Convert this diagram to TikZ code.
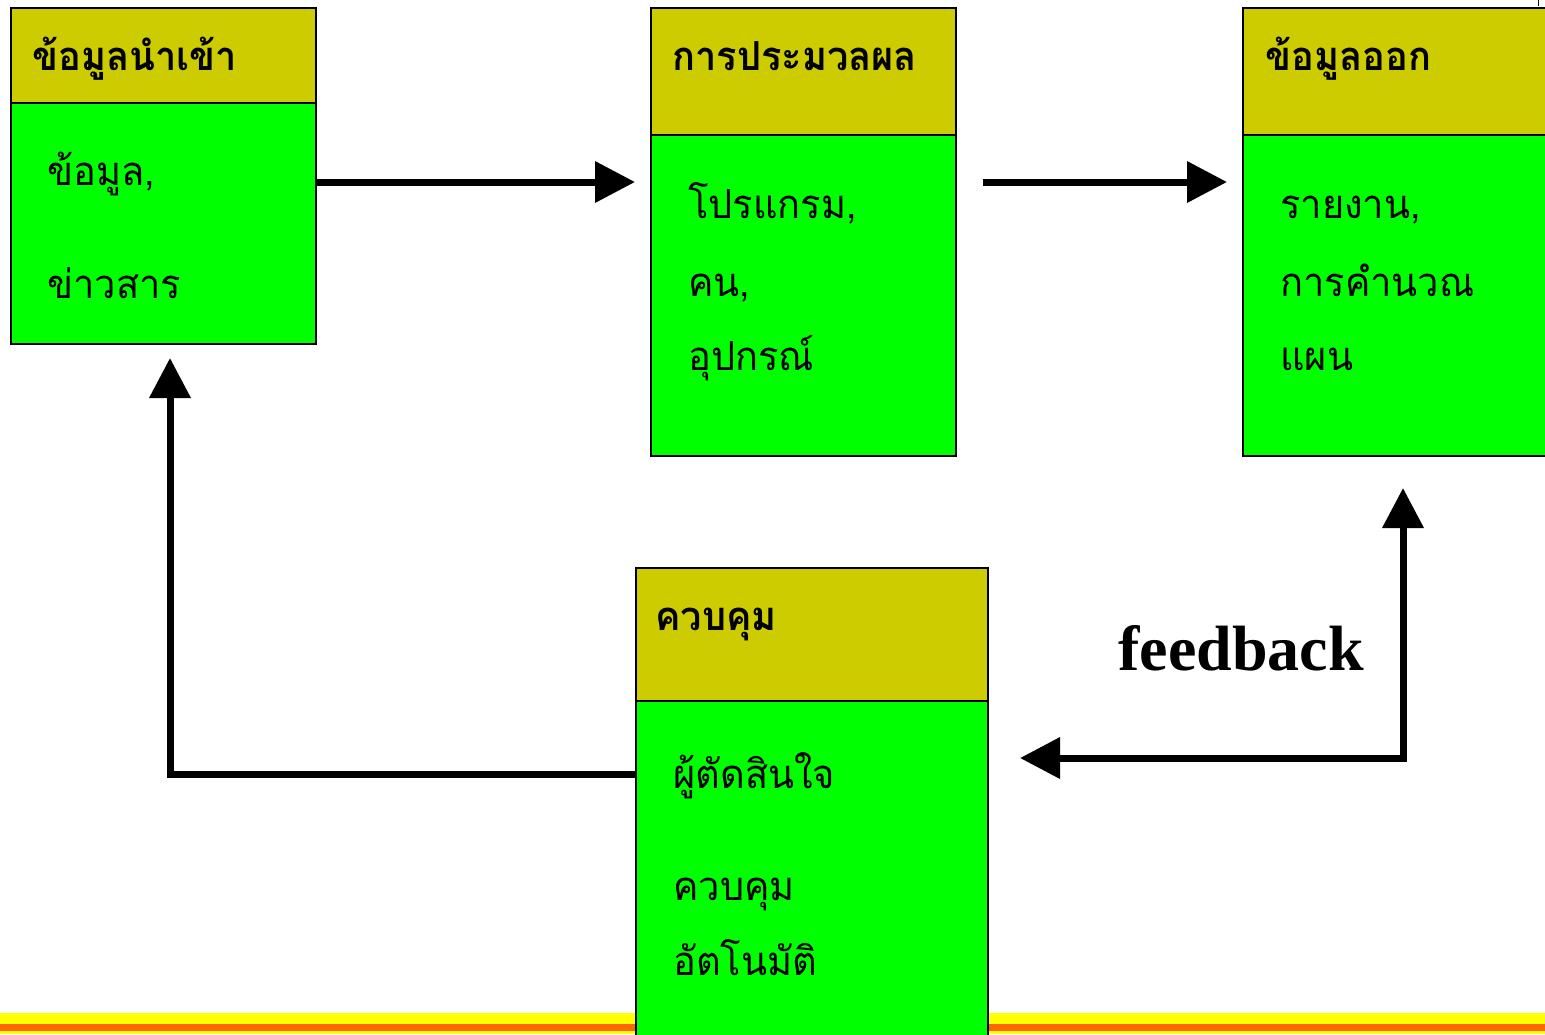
\documentclass[tikz,border=0pt]{standalone}
\usepackage{fontspec}
\usetikzlibrary{arrows.meta}
\newfontfamily\thai[Script=Thai,FakeStretch=0.95]{Loma}
\setmainfont{Liberation Serif}
\definecolor{hdr}{RGB}{204,204,0}
\definecolor{bodyg}{RGB}{0,255,0}
\definecolor{stripy}{RGB}{255,255,0}
\definecolor{stripo}{RGB}{255,102,0}
\tikzset{
  hdrbox/.style={draw=black,line width=1pt,fill=hdr,rectangle,inner sep=0pt,anchor=north west},
  bodybox/.style={draw=black,line width=1pt,fill=bodyg,rectangle,inner sep=0pt,anchor=north west},
  ttl/.style={anchor=base west,inner sep=0pt,font=\thai\bfseries\fontsize{20}{24}\selectfont},
  txt/.style={anchor=base west,inner sep=0pt,font=\thai\fontsize{20}{24}\selectfont},
  arr/.style={line width=3.5pt,-{Triangle[length=20pt,width=20pt]}},
}
\begin{document}
\begin{tikzpicture}[x=0.5pt,y=-0.5pt]
\useasboundingbox (0,0) rectangle (1545,1034);
\clip (0,0) rectangle (1545,1034);
% bottom strip
\fill[stripy] (0,1013) rectangle (1545,1034);
\fill[stripo] (0,1024) rectangle (1545,1031);
\draw[line width=0.5pt] (1538,0) -- (1538,6);
% box 1
\node[hdrbox,minimum width=152.5pt,minimum height=47.5pt] (h1) at (10,7) {};
\node[bodybox,minimum width=152.5pt,minimum height=120.5pt] (b1) at (10,102) {};
\node[ttl] (t1) at (32,70) {ข้อมูลนำเข้า};
\node[txt] (t1a) at (47,185) {ข้อมูล,};
\node[txt] (t1b) at (47,298) {ข่าวสาร};
% box 2
\node[hdrbox,minimum width=152.5pt,minimum height=63.5pt] (h2) at (650,7) {};
\node[bodybox,minimum width=152.5pt,minimum height=160.5pt] (b2) at (650,134) {};
\node[ttl] (t2) at (672,70) {การประมวลผล};
\node[txt] (t2a) at (688,218) {โปรแกรม,};
\node[txt] (t2b) at (688,296) {คน,};
\node[txt] (t2c) at (688,370) {อุปกรณ์};
% box 3
\node[hdrbox,minimum width=160pt,minimum height=63.5pt] (h3) at (1242,7) {};
\node[bodybox,minimum width=160pt,minimum height=160.5pt] (b3) at (1242,134) {};
\node[ttl] (t3) at (1265,70) {ข้อมูลออก};
\node[txt] (t3a) at (1280,218) {รายงาน,};
\node[txt] (t3b) at (1280,296) {การคำนวณ};
\node[txt] (t3c) at (1280,370) {แผน};
% box 4
\node[hdrbox,minimum width=176pt,minimum height=66.5pt] (h4) at (635,567) {};
\node[bodybox,minimum width=176pt,minimum height=180pt] (b4) at (635,700) {};
\node[ttl] (t4) at (655,630) {ควบคุม};
\node[txt] (t4a) at (673,788) {ผู้ตัดสินใจ};
\node[txt] (t4b) at (673,900) {ควบคุม};
\node[txt] (t4c) at (673,975) {อัตโนมัติ};
% feedback label
\node[anchor=base west,inner sep=0pt,font=\bfseries\fontsize{32}{36}\selectfont] (fb) at (1118,670) {feedback};
% connectors
\coordinate (a1s) at (b1.east |- 0,182);
\coordinate (a1e) at (635,182);
\draw[arr] (a1s) -- (a1e);
\coordinate (a2s) at (983,182);
\coordinate (a2e) at (1227,182);
\draw[arr] (a2s) -- (a2e);
\coordinate (l1s) at (b4.west |- 0,774);
\coordinate (l1c) at (170,774);
\coordinate (l1e) at (170,358);
\draw[arr] (l1s) -- (l1c) -- (l1e);
\coordinate (fbs) at (1020,758);
\coordinate (fbc) at (1403,758);
\coordinate (fbe) at (1403,488);
\draw[line width=3.5pt,{Triangle[length=20pt,width=20pt]}-{Triangle[length=20pt,width=20pt]}] (fbs) -- (fbc) -- (fbe);
\end{tikzpicture}
\end{document}
